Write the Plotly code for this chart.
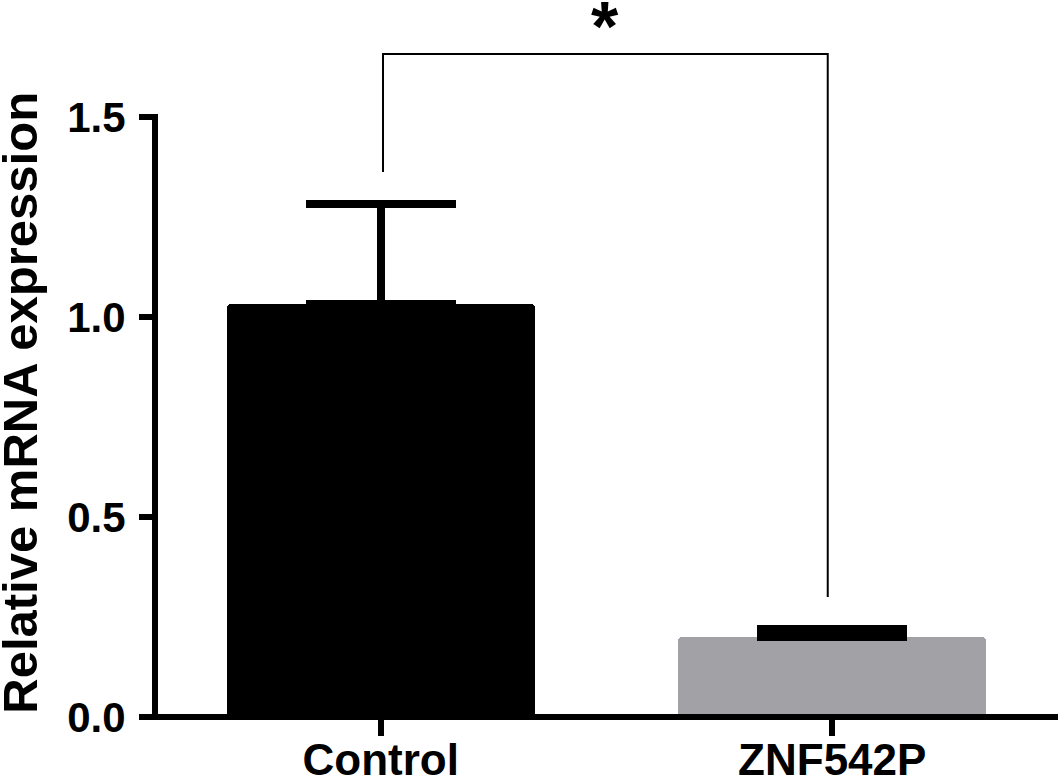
import plotly.graph_objects as go

# data
groups = ["Control", "ZNF542P"]
means = [1.033, 0.20]
sem_up = [0.25, 0.02]
bar_colors = ["#000000", "#a2a2a6"]
y_ticks = [0, 0.5, 1.0, 1.5]
y_ticktext = ["0.0", "0.5", "1.0", "1.5"]

# significance bracket: x ends, top, and where each leg stops
bracket_x = [0.005, 0.99]
bracket_top = 1.6575
bracket_legs = [1.3625, 0.30]
star_text = "*"

font_family = "Liberation Sans, Arial, sans-serif"

fig = go.Figure()
fig.add_trace(go.Bar(
    x=[0, 1],
    y=means,
    width=0.682,
    marker=dict(color=bar_colors, line=dict(width=0), cornerradius=4),
    error_y=dict(
        type="data", array=sem_up, arrayminus=[0, 0], symmetric=False,
        color="black", thickness=8, width=75,
    ),
    showlegend=False,
))

# axis lines drawn as shapes (x axis runs slightly past the y axis like Prism)
fig.add_shape(type="line", xref="paper", yref="paper",
              x0=-0.0177, x1=1, y0=0, y1=0, line=dict(color="black", width=6))
fig.add_shape(type="line", xref="paper", yref="y",
              x0=0, x1=0, y0=0, y1=1.5 + 0.0075, line=dict(color="black", width=6))

# significance bracket
fig.add_shape(type="path", xref="x", yref="y",
              path=f"M {bracket_x[0]},{bracket_legs[0]} L {bracket_x[0]},{bracket_top} "
                   f"L {bracket_x[1]},{bracket_top} L {bracket_x[1]},{bracket_legs[1]}",
              line=dict(color="black", width=2))
fig.add_annotation(x=sum(bracket_x) / 2, y=1.724, xref="x", yref="y",
                   text=star_text, showarrow=False, yanchor="middle",
                   font=dict(family=font_family, size=70, color="black", weight="bold"))

# y title as annotation
fig.add_annotation(x=-0.1498, y=0.785, xref="paper", yref="y",
                   text="Relative mRNA expression", textangle=-90, showarrow=False,
                   xanchor="center", yanchor="middle",
                   font=dict(family=font_family, size=49, color="black", weight="bold"))

fig.update_layout(
    width=1064, height=784,
    margin=dict(l=155, r=6, t=17, b=67),
    plot_bgcolor="white", paper_bgcolor="white",
    bargap=0,
    xaxis=dict(
        range=[-0.5, 1.5], tickvals=[0, 1], ticktext=groups,
        showline=False, showgrid=False, zeroline=False, automargin=False,
        ticks="outside", ticklen=18, tickwidth=6, tickcolor="black",
        ticklabelstandoff=-14,
        tickfont=dict(family=font_family, size=44, color="black", weight="bold"),
        fixedrange=True,
    ),
    yaxis=dict(
        range=[0, 1.75], tickvals=y_ticks, ticktext=y_ticktext,
        showline=False, showgrid=False, zeroline=False, automargin=False,
        ticks="outside", ticklen=15, tickwidth=6, tickcolor="black",
        ticklabelstandoff=5,
        tickfont=dict(family=font_family, size=42, color="black", weight="bold"),
        fixedrange=True,
    ),
)

# drop the default page margin so the figure sits at the window's top-left corner
fig.write_html("out.html", config={"displayModeBar": False},
               post_script="document.body.style.margin='0';")
